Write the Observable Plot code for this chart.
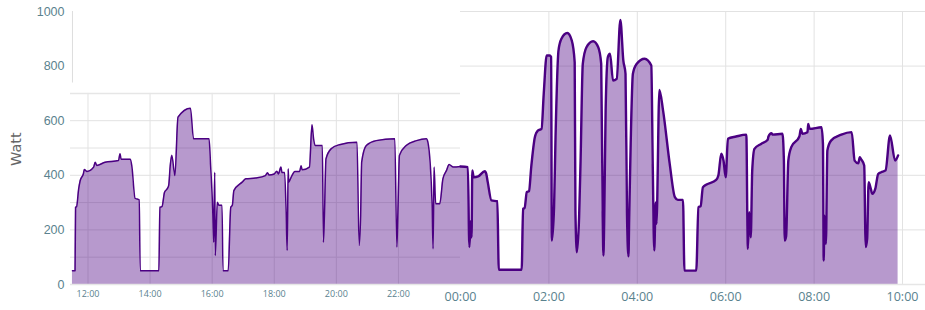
<!DOCTYPE html>
<html>
<head>
<meta charset="utf-8">
<script src="https://cdn.jsdelivr.net/npm/d3@7"></script>
<script src="https://cdn.jsdelivr.net/npm/@observablehq/plot@0.6"></script>
<style>
  body { margin: 0; background: #ffffff; }
  #chart svg { display: block; }
</style>
</head>
<body>
<div id="chart"></div>
<script>
// ---- data ----
const times = [
  "11:30","11:35","11:36","11:38","11:42","11:45","11:51","11:53","11:58","12:11",
  "12:14","12:17","12:33","12:59","13:02","13:04","13:22","13:25","13:31","13:39",
  "13:41","14:17","14:19","14:23","14:28","14:33","14:36","14:39","14:42","14:48",
  "14:54","15:18","15:24","15:54","15:57","16:01","16:03","16:05","16:06","16:10",
  "16:13","16:19","16:21","16:31","16:36","16:39","16:42","16:58","17:05","17:24",
  "17:43","17:47","17:50","18:00","18:05","18:08","18:13","18:15","18:20","18:23",
  "18:25","18:27","18:28","18:32","18:40","18:49","18:52","18:54","19:08","19:13",
  "19:16","19:19","19:33","19:35","19:37","19:40","19:50","20:06","20:40","20:44",
  "20:47","20:49","20:58","21:17","21:53","21:57","21:59","22:02","22:15","22:35",
  "22:54","22:57","23:05","23:07","23:09","23:12","23:20","23:26","23:33","23:38",
  "23:46",
  "00:00","00:10","00:12","00:14","00:15","00:16","00:18","00:24","00:33","00:35",
  "00:37","00:42","00:50","00:52","01:23","01:25","01:27","01:30","01:33","01:36",
  "01:41","01:45","01:50","01:53","01:57","02:01","02:03","02:04","02:07","02:09",
  "02:13","02:17","02:25","02:31","02:35","02:36","02:38","02:41","02:43","02:46",
  "02:51","03:00","03:07","03:11","03:13","03:14","03:15","03:17","03:20","03:23",
  "03:27","03:32","03:37","03:41","03:44","03:46","03:48","03:49","03:51","03:54",
  "03:59","04:10","04:19","04:21","04:23","04:25","04:26","04:30","04:35","04:44",
  "04:51","04:55","05:02","05:04","05:20","05:23","05:26","05:29","05:34","05:47",
  "05:50","05:54","05:57","06:00","06:03","06:14","06:28","06:30","06:32","06:34",
  "06:36","06:39","06:48","06:57","06:58","07:02","07:04","07:17","07:19","07:20",
  "07:22","07:25","07:29","07:40","07:42","07:44","07:51","07:52","07:54","08:10",
  "08:12","08:13","08:14","08:16","08:18","08:23","08:37","08:51","08:55","09:00",
  "09:02","09:04","09:08","09:10","09:12","09:14","09:17","09:19","09:23","09:27",
  "09:31","09:37","09:43","09:50","09:54"
];
const watts = [
   50,  50, 283, 285, 350, 381, 405, 421, 414, 430,
  448, 436, 448, 454, 479, 459, 459, 430, 316, 310,
   50,  50, 283, 285, 338, 350, 363, 436, 473, 399,
  613, 646, 534, 534, 436, 278, 155, 411, 106, 301,
  290, 290,  50,  50, 283, 290, 344, 375, 387, 390,
  399, 409, 401, 405, 415, 405, 430, 410, 410, 265,
  125, 424, 375, 390, 414, 414, 435, 420, 430, 585,
  534, 509, 509, 155, 253, 460, 497, 512, 521, 143,
  253, 448, 509, 527, 534, 137, 265, 473, 509, 527,
  534, 521, 300, 131, 430, 296, 296, 387, 418, 440,
  430,
  432, 430, 137, 234, 173, 418, 393, 396, 415, 405,
  375, 308, 305,  54,  54, 277, 280, 338, 342, 430,
  540, 564, 570, 699, 839, 839, 833, 161, 283, 540,
  857, 900, 921, 894, 814, 271, 118, 247, 454, 808,
  869, 891, 869, 808, 259, 106, 222, 637, 833, 845,
  747, 753, 969, 821, 772, 259, 103, 247, 515, 772,
  808, 827, 802, 430, 125, 301, 222, 713, 637, 442,
  320, 310, 310,  51,  51, 283, 287, 356, 366, 383,
  399, 479, 454, 393, 534, 542, 549, 131, 265, 173,
  418, 497, 515, 530, 542, 554, 549, 552, 454, 161,
  177, 454, 503, 542, 570, 552, 558, 588, 570, 576,
  515,  88, 253, 149, 491, 527, 549, 558, 454, 444,
  466, 458, 436, 137, 167, 375, 350, 332, 350, 405,
  411, 418, 546, 454, 473
];

// axis ticks (hours since midnight of day one) and their labels
const leftTicks = [12, 14, 16, 18, 20, 22];
const leftTickLabels = ["12:00", "14:00", "16:00", "18:00", "20:00", "22:00"];
const rightTicks = [24, 26, 28, 30, 32, 34];
const rightTickLabels = ["00:00", "02:00", "04:00", "06:00", "08:00", "10:00"];
const yTicks = [0, 200, 400, 600, 800, 1000];
const yTickLabels = ["0", "200", "400", "600", "800", "1000"];
const leftGridY = [0, 100, 200, 300, 400, 500, 600];
const rightGridY = [200, 400, 600, 800, 1000];
const insetTop = 700;      // top edge of the inset day-one panel
const axisName = "Watt";

// ---- build table ----
let prev = -1, offset = 0;
const data = times.map((t, i) => {
  const [H, M] = t.split(":").map(Number);
  let h = H + M / 60;
  if (h + offset < prev) offset += 24;
  h += offset;
  prev = h;
  return { h, w: watts[i] };
});
const leftData = data.filter(d => d.h <= 24);
const rightData = data.filter(d => d.h >= 24);

const xStart = 11.437, midnight = 24, xEnd = 34.52;
const lineColor = "#4b0082";
const tickColor = "#5a828e";
const gridColor = "#e2e2e2";
const curve = "monotone-x";

const chart = Plot.plot({
  width: 925,
  height: 310,
  marginTop: 11,
  marginBottom: 26,
  marginLeft: 70,
  marginRight: 0,
  style: { fontFamily: "'Liberation Sans', Arial, sans-serif", background: "#ffffff" },
  x: { type: "linear", domain: [xStart, midnight, xEnd], range: [70, 460, 925] },
  y: { domain: [0, 1000] },
  marks: [
    // grids
    Plot.ruleY(leftGridY, { x1: xStart, x2: midnight, stroke: gridColor, strokeWidth: 1 }),
    Plot.ruleY(rightGridY, { x1: midnight, x2: xEnd, stroke: gridColor, strokeWidth: 1 }),
    Plot.ruleX(leftTicks, { y1: 0, y2: insetTop, stroke: gridColor, strokeWidth: 1 }),
    Plot.ruleX(rightTicks.filter(d => d > midnight), { y1: 0, y2: 1000, stroke: gridColor, strokeWidth: 1 }),
    Plot.ruleY([insetTop], { x1: xStart, x2: midnight, stroke: "#e6e6e6", strokeWidth: 1.5 }),
    Plot.ruleX([11.5], { y1: 738, y2: 1000, stroke: "#dddddd", strokeWidth: 1 }),
    // area + line
    Plot.areaY(data, { x: "h", y: "w", fill: lineColor, fillOpacity: 0.4, curve }),
    Plot.lineY(leftData, { x: "h", y: "w", stroke: lineColor, strokeWidth: 1.5, curve }),
    Plot.lineY(rightData, { x: "h", y: "w", stroke: lineColor, strokeWidth: 2.4, curve }),
    Plot.ruleY([0], { x1: xStart, x2: xEnd, stroke: "#e6e6e6", strokeWidth: 1.5 }),
    // axes
    Plot.axisY(yTicks, {
      anchor: "left", tickSize: 0, tickPadding: 6, fontSize: 12.5,
      color: tickColor, fill: tickColor, label: null,
      tickFormat: d => yTickLabels[yTicks.indexOf(d)]
    }),
    Plot.axisX(leftTicks, {
      anchor: "bottom", tickSize: 0, tickPadding: 6, fontSize: 9,
      fontFamily: "'Open Sans', sans-serif",
      color: tickColor, fill: tickColor, label: null,
      tickFormat: d => leftTickLabels[leftTicks.indexOf(d)]
    }),
    Plot.axisX(rightTicks, {
      anchor: "bottom", tickSize: 0, tickPadding: 8, fontSize: 12.5,
      fontFamily: "'Open Sans', sans-serif",
      color: tickColor, fill: tickColor, label: null,
      tickFormat: d => rightTickLabels[rightTicks.indexOf(d)]
    }),
    Plot.text([axisName], {
      frameAnchor: "left", dx: -54, dy: 18, rotate: -90,
      fontSize: 14.5, fontFamily: "'DejaVu Sans', sans-serif", fill: "#666666"
    })
  ]
});
document.getElementById("chart").appendChild(chart);
</script>
</body>
</html>
